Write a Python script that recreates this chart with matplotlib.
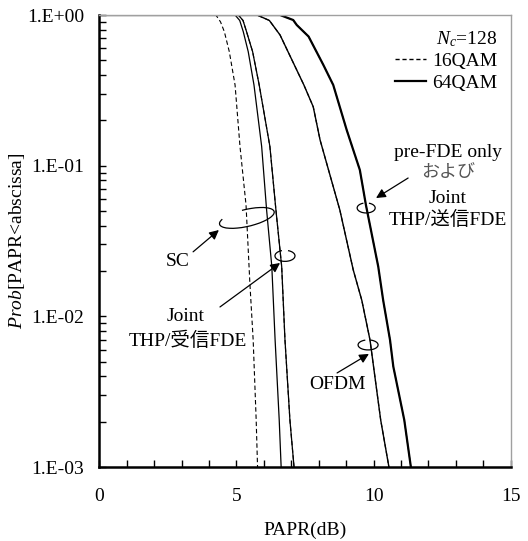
import numpy as np
import matplotlib
matplotlib.use("Agg")
import matplotlib.pyplot as plt
from matplotlib.patches import Arc
from matplotlib.lines import Line2D
from matplotlib.ticker import FixedLocator, FuncFormatter, LogLocator, NullFormatter

plt.rcParams['font.family'] = ['Liberation Serif', 'Noto Sans CJK JP']
plt.rcParams['mathtext.fontset'] = 'custom'
plt.rcParams['mathtext.rm'] = 'Liberation Serif'
plt.rcParams['mathtext.it'] = 'Liberation Serif:italic'

# ---- data (PAPR in dB, probability) ----
sc16_db = [0, 4.25, 4.42, 4.56, 4.74, 4.95, 5.13, 5.35, 5.49, 5.61, 5.72, 5.77]
sc16_p = [1, 1, 0.90, 0.774, 0.571, 0.343, 0.134, 0.0548, 0.0166, 0.00698, 0.00205, 0.001]

sc64_db = [0, 4.95, 5.12, 5.25, 5.43, 5.64, 5.92, 6.10, 6.29, 6.41, 6.56, 6.63]
sc64_p = [1, 1, 0.92, 0.774, 0.571, 0.343, 0.134, 0.0508, 0.0214, 0.00697, 0.00205, 0.001]

joint_rx_db = [0, 5.07, 5.24, 5.37, 5.59, 5.83, 6.22, 6.44, 6.65, 6.77, 6.95, 7.10]
joint_rx_p = [1, 1, 0.92, 0.774, 0.571, 0.343, 0.134, 0.0508, 0.0214, 0.00697, 0.00205, 0.001]

ofdm_db = [0, 5.75, 6.20, 6.59, 6.88, 7.46, 7.80, 8.05, 8.77, 9.26, 9.57, 9.87, 10.26, 10.56]
ofdm_p = [1, 1, 0.92, 0.737, 0.571, 0.343, 0.246, 0.148, 0.0508, 0.0203, 0.0128, 0.00697, 0.00205, 0.001]

prefde_db = [0, 6.59, 7.07, 7.20, 7.63, 8.17, 8.53, 9.02, 9.50, 9.72, 10.17, 10.35, 10.60, 10.72, 11.12, 11.36]
prefde_p = [1, 1, 0.926, 0.858, 0.72, 0.466, 0.343, 0.1726, 0.0936, 0.055, 0.0214, 0.0128, 0.00697, 0.00464, 0.00205, 0.001]

x_ticks = [0, 5, 10, 15]
y_ticks = [1e-3, 1e-2, 1e-1, 1e0]

fig = plt.figure(figsize=(5.28, 5.41), dpi=100)
ax = fig.add_axes([99.3 / 528, 74 / 541, 411.4 / 528, 452 / 541])

dash = (0, (4, 2.5))
# 16QAM curves (joint / OFDM / pre-FDE ones lie under the 64QAM ones)
ax.plot(sc16_db, sc16_p, color='black', lw=0.8, ls=dash)
ax.plot(joint_rx_db, joint_rx_p, color='black', lw=0.8, ls=dash)
ax.plot(ofdm_db, ofdm_p, color='black', lw=0.8, ls=dash)
ax.plot(prefde_db, prefde_p, color='black', lw=0.8, ls=dash)
# 64QAM curves
ax.plot(sc64_db, sc64_p, color='black', lw=0.9)
ax.plot(joint_rx_db, joint_rx_p, color='black', lw=0.9)
ax.plot(ofdm_db, ofdm_p, color='black', lw=1.0)
ax.plot(prefde_db, prefde_p, color='black', lw=1.6)

ax.set_yscale('log')
ax.set_xlim(0, 15)
ax.set_ylim(1e-3, 1)
ax.xaxis.set_major_locator(FixedLocator(x_ticks))
ax.xaxis.set_minor_locator(FixedLocator(np.arange(0, 16, 1)))
ax.yaxis.set_major_locator(FixedLocator(y_ticks))
ax.yaxis.set_minor_locator(LogLocator(base=10, subs=np.arange(2, 10)))
ax.yaxis.set_minor_formatter(NullFormatter())
ax.yaxis.set_major_formatter(FuncFormatter(lambda v, pos: '1.E%+03d' % int(round(np.log10(v)))))
ax.tick_params(which='both', direction='in', length=5, width=1, top=False, right=False,
               labelsize=14)
ax.tick_params(axis='y', pad=11)
ax.tick_params(axis='x', pad=15)

for s in ['left', 'bottom']:
    ax.spines[s].set_linewidth(1.8)
for s in ['top', 'right']:
    ax.spines[s].set_color('#a0a0a0')
    ax.spines[s].set_linewidth(1.0)

ax.set_xlabel('PAPR(dB)', fontsize=14, labelpad=12)
ax.set_ylabel(r'$Prob$[PAPR<abscissa]', fontsize=14, labelpad=0)

# legend
handles = [Line2D([0], [0], color='black', lw=1.0, ls=(0, (3, 2))),
           Line2D([0], [0], color='black', lw=1.6)]
leg = ax.legend(handles, ['16QAM', '64QAM'], title=r'$N_c$=128', loc='upper right',
                bbox_to_anchor=(0.995, 0.995), frameon=False, fontsize=14, title_fontsize=14,
                handlelength=1.6, handletextpad=0.3, labelspacing=0.2, borderpad=0.1,
                alignment='right')

# annotations
arrow = dict(arrowstyle='-|>', color='black', lw=0.9, mutation_scale=14, shrinkA=0, shrinkB=0)
fs = 14
ax.text(12.71, 0.123, 'pre-FDE only', ha='center', va='center', fontsize=fs)
ax.text(12.71, 0.0895, 'および', ha='center', va='center', fontsize=fs - 1, color='#555555')
ax.text(12.71, 0.0601, 'Joint', ha='center', va='center', fontsize=fs)
ax.text(12.71, 0.0436, 'THP/送信FDE', ha='center', va='center', fontsize=fs)
ax.annotate('', xy=(10.09, 0.0610), xytext=(11.26, 0.0828), arrowprops=arrow)

ax.text(2.87, 0.0230, 'SC', ha='center', va='center', fontsize=fs)
ax.annotate('', xy=(4.36, 0.0374), xytext=(3.42, 0.0268), arrowprops=arrow)

ax.text(3.13, 0.00991, 'Joint', ha='center', va='center', fontsize=fs)
ax.text(3.23, 0.00687, 'THP/受信FDE', ha='center', va='center', fontsize=fs)
ax.annotate('', xy=(6.59, 0.0226), xytext=(4.40, 0.01154), arrowprops=arrow)

ax.text(8.70, 0.00351, 'OFDM', ha='center', va='center', fontsize=fs)
ax.annotate('', xy=(9.83, 0.00563), xytext=(8.67, 0.00421), arrowprops=arrow)

# little loops marking the curve groups (sizes in pixels)
loops = [((5.38, 0.045), 56, 17, 13, 170, 110),
         ((6.77, 0.0252), 20, 11, 0, 120, 60),
         ((9.73, 0.0524), 18, 10, 0, 120, 60),
         ((9.80, 0.00646), 20, 10, 0, 120, 60)]
for (cx, cy), w, h, ang, t1, t2 in loops:
    px, py = ax.transData.transform((cx, cy))
    arc = Arc((px, py), w, h, angle=ang, theta1=t1, theta2=t2, color='black', lw=0.9,
              transform=None)
    fig.add_artist(arc)

fig.savefig('out.png', dpi=100)
